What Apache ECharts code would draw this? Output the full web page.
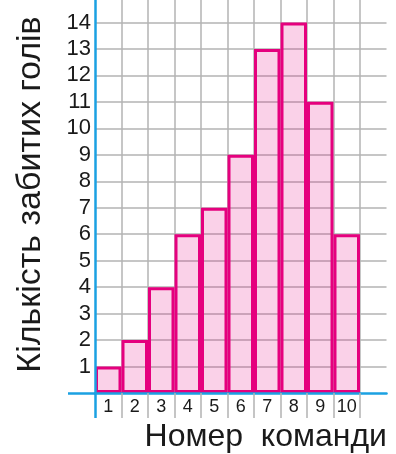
<!DOCTYPE html>
<html>
<head>
<meta charset="utf-8">
<script src="https://cdn.jsdelivr.net/npm/echarts@6/dist/echarts.min.js"></script>
<style>
  html, body { margin: 0; padding: 0; background: #fff; }
  #chart { width: 396px; height: 454px; }
</style>
</head>
<body>
<div id="chart"></div>
<script>
// номери команд і кількість забитих голів
const teams = ['1', '2', '3', '4', '5', '6', '7', '8', '9', '10']
const goals = [1, 2, 4, 6, 7, 9, 13, 14, 11, 6]
const goalTicks = [1, 2, 3, 4, 5, 6, 7, 8, 9, 10, 11, 12, 13, 14]

const blue = '#1ba1e2'
const pink = '#e5007e'
const gray = '#b3b3b3'
const font = 'Liberation Sans'

// one empty band after the last team, grid lines run to its end
const bandCats = teams.concat([''])
// band edges for the ticks under the axis
const edgeCats = bandCats.concat(['end'])

const chart = echarts.init(document.getElementById('chart'))

chart.setOption({
  animation: false,
  grid: {
    left: 95,
    right: 9.5,
    top: -4,
    bottom: 61,
    outerBoundsMode: 'none'
  },
  xAxis: [
    {
      type: 'category',
      data: bandCats,
      position: 'bottom',
      axisLine: { show: false },
      axisTick: { show: false },
      axisLabel: {
        margin: 5,
        fontSize: 18,
        fontFamily: font,
        color: '#1a1a1a'
      },
      splitLine: {
        show: true,
        interval: 0,
        showMinLine: false,
        showMaxLine: false,
        lineStyle: { color: gray, width: 1.5 }
      },
      name: 'Номер  команди',
      nameLocation: 'middle',
      nameGap: 28,
      nameMoveOverlap: false,
      nameTextStyle: {
        fontSize: 32,
        fontFamily: font,
        color: '#1a1a1a',
        padding: [0, 0, 0, 50]
      }
    },
    { // blue axis line + gray ticks between the numbers
      type: 'category',
      data: edgeCats,
      boundaryGap: false,
      position: 'bottom',
      z: 10,
      axisLine: { show: true, lineStyle: { color: blue, width: 2.5 } },
      axisTick: {
        show: true,
        interval: function (i) { return i >= 1 && i <= 10 },
        length: 25,
        lineStyle: { color: gray, width: 1.5 }
      },
      axisLabel: { show: false },
      splitLine: { show: false }
    },
    { // blue stub of the vertical axis below zero
      type: 'category',
      data: edgeCats,
      boundaryGap: false,
      position: 'bottom',
      z: 10,
      axisLine: { show: false },
      axisTick: {
        show: true,
        interval: function (i) { return i === 0 },
        length: 25,
        lineStyle: { color: blue, width: 2.5 }
      },
      axisLabel: { show: false },
      splitLine: { show: false }
    }
  ],
  yAxis: [
    {
      type: 'value',
      min: 0,
      max: 15,
      interval: 1,
      axisLine: { show: false },
      axisTick: { show: false },
      axisLabel: {
        margin: 4,
        fontSize: 22,
        fontFamily: font,
        color: '#1a1a1a',
        padding: [0, 0, 6, 0],
        formatter: function (v) {
          return goalTicks.indexOf(v) >= 0 ? String(v) : ''
        }
      },
      splitLine: {
        show: true,
        showMinLine: false,
        lineStyle: { color: gray, width: 1.5 }
      },
      name: 'Кількість забитих голів',
      nameLocation: 'middle',
      nameRotate: 90,
      nameGap: 47,
      nameMoveOverlap: false,
      nameTextStyle: {
        fontSize: 34,
        fontFamily: font,
        color: '#1a1a1a'
      }
    },
    { // blue vertical axis on top of the bars, tick at 0 pokes left
      type: 'value',
      min: 0,
      max: 15,
      interval: 15,
      position: 'left',
      z: 10,
      axisLine: { show: true, lineStyle: { color: blue, width: 2.5 } },
      axisTick: { show: true, length: 27, lineStyle: { color: blue, width: 2.5 } },
      axisLabel: { show: false },
      splitLine: { show: false }
    }
  ],
  series: [
    {
      type: 'bar',
      xAxisIndex: 0,
      yAxisIndex: 0,
      barCategoryGap: '0%',
      itemStyle: {
        color: 'rgba(229, 0, 126, 0.18)',
        borderColor: pink,
        borderWidth: 3
      },
      data: goals
    }
  ]
})
</script>
</body>
</html>
